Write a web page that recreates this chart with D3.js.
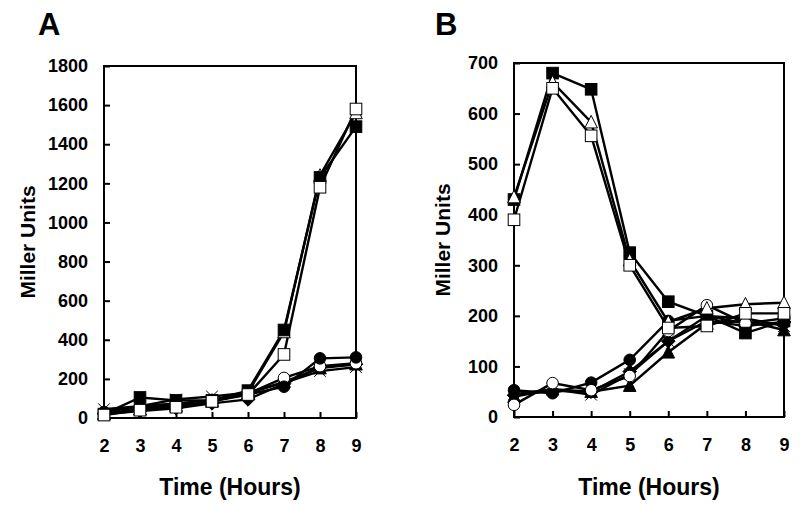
<!DOCTYPE html>
<html><head><meta charset="utf-8">
<script src="https://cdn.jsdelivr.net/npm/d3@7"></script>
<style>body{margin:0;background:#fff}svg{display:block}text{font-family:"Liberation Sans",Arial,sans-serif;font-weight:bold;fill:#000}</style>
</head><body><svg id="c" width="800" height="507"></svg>
<script>
const hours = [2,3,4,5,6,7,8,9];
const yTicksA = [0,200,400,600,800,1000,1200,1400,1600,1800];
const yTicksB = [0,100,200,300,400,500,600,700];

// Panel A series
const aFilledSquare = [20,105,90,90,140,450,1230,1490];
const aOpenSquare   = [15,40,55,85,120,325,1180,1580];
const aOpenTriangle = [20,45,60,90,130,440,1240,1560];
const aFilledTri    = [25,45,65,85,125,185,255,275];
const aFilledCircle = [30,60,75,90,120,160,305,310];
const aOpenCircle   = [25,50,70,90,125,205,265,280];
const aCross        = [45,60,95,110,130,180,240,260];
const aDiamond      = [20,35,50,75,95,175,260,275];

// Panel B series
const bFilledSquare = [430,680,648,325,228,200,166,190];
const bOpenSquare   = [390,650,556,300,176,180,205,205];
const bOpenTriangle = [435,662,583,310,188,215,223,226];
const bFilledTri    = [40,55,50,62,128,185,190,172];
const bFilledCircle = [53,47,68,113,190,200,185,185];
const bOpenCircle   = [24,67,53,81,170,221,185,195];
const bCross        = [45,55,44,85,150,200,195,180];
const bDiamond      = [43,52,50,90,150,190,180,188];

const svg = d3.select("#c");
const FONT = "Liberation Sans, Arial, sans-serif";

function marker(g, type, x, y){
  const s = 5.8;
  if(type==="fsq"||type==="osq"){
    g.append("rect").attr("x",x-s).attr("y",y-s).attr("width",2*s).attr("height",2*s)
      .attr("fill",type==="fsq"?"#000":"#fff").attr("stroke","#000").attr("stroke-width",1);
  } else if(type==="fci"||type==="oci"){
    g.append("circle").attr("cx",x).attr("cy",y).attr("r",s)
      .attr("fill",type==="fci"?"#000":"#fff").attr("stroke","#000").attr("stroke-width",1);
  } else if(type==="otr"||type==="ftr"){
    g.append("path").attr("d",`M${x},${y-s-1}L${x+s+0.5},${y+s}L${x-s-0.5},${y+s}Z`)
      .attr("fill",type==="ftr"?"#000":"#fff").attr("stroke","#000").attr("stroke-width",1);
  } else if(type==="dia"){
    g.append("path").attr("d",`M${x},${y-s-1}L${x+s+1},${y}L${x},${y+s+1}L${x-s-1},${y}Z`)
      .attr("fill","#000").attr("stroke","#000").attr("stroke-width",1);
  } else if(type==="x"){
    g.append("path").attr("d",`M${x-s},${y-s}L${x+s},${y+s}M${x-s},${y+s}L${x+s},${y-s}`)
      .attr("fill","none").attr("stroke","#000").attr("stroke-width",1);
  }
}

function panel(cfg){
  const g = svg.append("g");
  const x = d3.scaleLinear().domain([2,9]).range([cfg.left,cfg.right]);
  const y = d3.scaleLinear().domain([0,cfg.ymax]).range([cfg.bottom,cfg.top]);

  g.append("rect").attr("x",cfg.left).attr("y",cfg.top)
    .attr("width",cfg.right-cfg.left).attr("height",cfg.bottom-cfg.top)
    .attr("fill","none").attr("stroke","#000").attr("stroke-width",2);

  const ya = g.append("g").attr("transform",`translate(${cfg.left},0)`)
    .call(d3.axisLeft(y).tickValues(cfg.yTicks).tickSize(-6).tickPadding(16).tickFormat(d3.format("d")));
  ya.select(".domain").remove();
  ya.selectAll("line").attr("stroke","#000").attr("stroke-width",2);
  ya.selectAll("text").style("font-size","18px").style("font-family",FONT).style("font-weight","bold").attr("fill","#000");

  const xa = g.append("g").attr("transform",`translate(0,${cfg.bottom})`)
    .call(d3.axisBottom(x).tickValues(hours).tickSize(-6).tickPadding(21).tickFormat(d3.format("d")));
  xa.select(".domain").remove();
  xa.selectAll("line").attr("stroke","#000").attr("stroke-width",2);
  xa.selectAll("text").style("font-size","18px").style("font-family",FONT).style("font-weight","bold").attr("fill","#000");

  const line = d3.line().x((d,i)=>x(hours[i])).y(d=>y(d));
  cfg.series.forEach(s=>{
    g.append("path").attr("d",line(s.v)).attr("fill","none").attr("stroke","#000").attr("stroke-width",2.4);
  });
  cfg.series.forEach(s=>{
    s.v.forEach((d,i)=>marker(g,s.m,x(hours[i]),y(d)));
  });

  g.append("text").attr("x",cfg.panelX).attr("y",35).style("font-size","31px").text(cfg.label);
  g.append("text").attr("transform",`translate(${cfg.ytitleX},${(cfg.top+cfg.bottom)/2}) rotate(-90)`)
    .attr("text-anchor","middle").style("font-size","21px").text("Miller Units");
  g.append("text").attr("x",(cfg.left+cfg.right)/2).attr("y",495)
    .attr("text-anchor","middle").style("font-size","23px").text("Time (Hours)");
}

panel({left:104,right:356,top:66,bottom:418,ymax:1800,yTicks:yTicksA,label:"A",panelX:38,ytitleX:35,
  series:[
    {v:aDiamond,m:"dia"},{v:aCross,m:"x"},{v:aFilledTri,m:"ftr"},{v:aOpenCircle,m:"oci"},
    {v:aFilledCircle,m:"fci"},{v:aOpenTriangle,m:"otr"},{v:aFilledSquare,m:"fsq"},{v:aOpenSquare,m:"osq"}
  ]});
panel({left:514,right:784,top:63,bottom:417,ymax:700,yTicks:yTicksB,label:"B",panelX:435,ytitleX:450,
  series:[
    {v:bDiamond,m:"dia"},{v:bCross,m:"x"},{v:bFilledTri,m:"ftr"},{v:bFilledCircle,m:"fci"},
    {v:bOpenCircle,m:"oci"},{v:bFilledSquare,m:"fsq"},{v:bOpenTriangle,m:"otr"},{v:bOpenSquare,m:"osq"}
  ]});
</script></body></html>
